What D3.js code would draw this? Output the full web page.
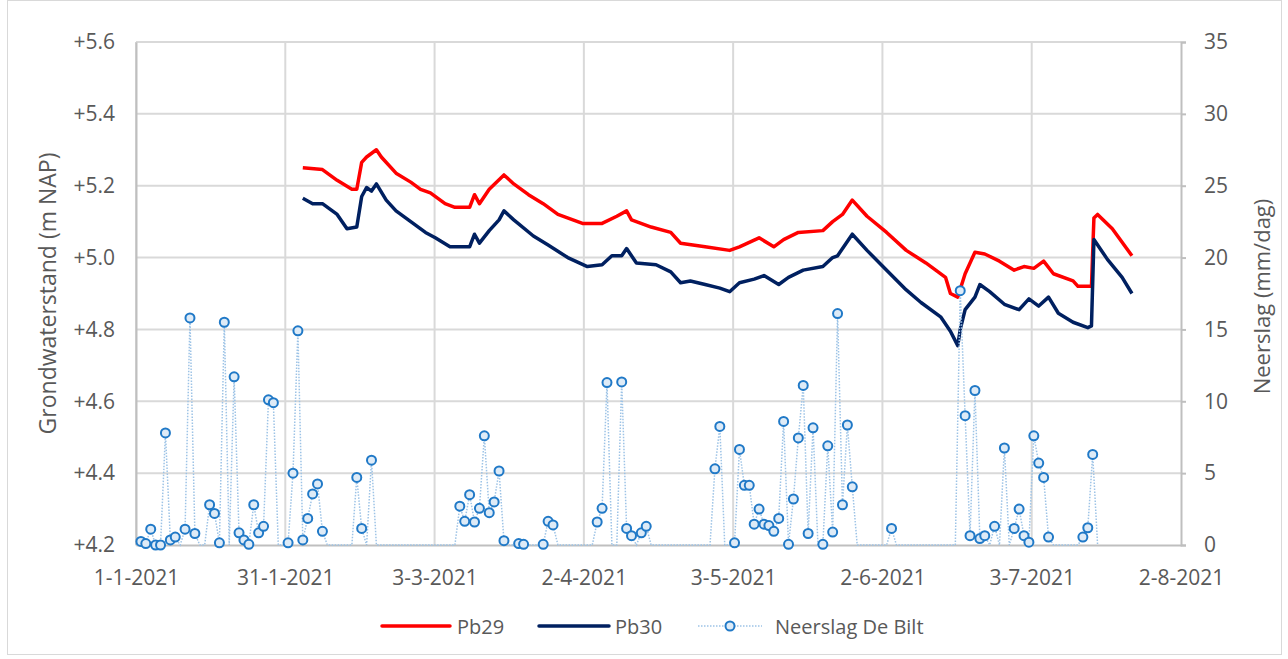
<!DOCTYPE html>
<html>
<head>
<meta charset="utf-8">
<script src="https://cdn.jsdelivr.net/npm/d3@7"></script>
<style>
  body { margin: 0; background: #fff; }
  svg { display: block; font-family: 'Open Sans', sans-serif; }
</style>
</head>
<body>
<div id="chart"></div>
<script>
// x axis: Excel spreads the 8 date labels evenly over 1-1-2021 .. 2-8-2021
const xDomain = ['2021-01-01', '2021-08-02'];
const xTickLabels = ['1-1-2021', '31-1-2021', '3-3-2021', '2-4-2021', '3-5-2021', '2-6-2021', '3-7-2021', '2-8-2021'];
const leftTicks = [4.2, 4.4, 4.6, 4.8, 5.0, 5.2, 5.4, 5.6];
const rightTicks = [0, 5, 10, 15, 20, 25, 30, 35];

// Grondwaterstand Pb29 (m NAP)
const pb29Dates = ['2021-02-04', '2021-02-08', '2021-02-11', '2021-02-14', '2021-02-15', '2021-02-16',
  '2021-02-17', '2021-02-19', '2021-02-20', '2021-02-23', '2021-02-26', '2021-02-28', '2021-03-02',
  '2021-03-05', '2021-03-07', '2021-03-10', '2021-03-11', '2021-03-12', '2021-03-14', '2021-03-17',
  '2021-03-19', '2021-03-22', '2021-03-25', '2021-03-28', '2021-04-02', '2021-04-06', '2021-04-09',
  '2021-04-11', '2021-04-12', '2021-04-16', '2021-04-20', '2021-04-22', '2021-04-27', '2021-05-02',
  '2021-05-04', '2021-05-08', '2021-05-11', '2021-05-13', '2021-05-16', '2021-05-21', '2021-05-23',
  '2021-05-25', '2021-05-27', '2021-05-30', '2021-06-03', '2021-06-07', '2021-06-11', '2021-06-15',
  '2021-06-16', '2021-06-17T12:00Z', '2021-06-19', '2021-06-21', '2021-06-23', '2021-06-26',
  '2021-06-29', '2021-07-01', '2021-07-03', '2021-07-05', '2021-07-07', '2021-07-11', '2021-07-12',
  '2021-07-14T18:00Z', '2021-07-15T06:00Z', '2021-07-16', '2021-07-19', '2021-07-23'];
const pb29Values = [5.25, 5.245, 5.215, 5.19, 5.19, 5.265,
  5.28, 5.30, 5.28, 5.235, 5.21, 5.19, 5.18,
  5.15, 5.14, 5.14, 5.175, 5.15, 5.19, 5.23,
  5.205, 5.175, 5.15, 5.12, 5.095, 5.095, 5.115,
  5.13, 5.105, 5.085, 5.07, 5.04, 5.03, 5.02,
  5.03, 5.055, 5.03, 5.05, 5.07, 5.075, 5.10,
  5.12, 5.16, 5.115, 5.07, 5.02, 4.985, 4.945,
  4.90, 4.89, 4.955, 5.015, 5.01, 4.99,
  4.965, 4.975, 4.97, 4.99, 4.955, 4.935, 4.92,
  4.92, 5.11, 5.12, 5.08, 5.005];

// Grondwaterstand Pb30 (m NAP)
const pb30Dates = ['2021-02-04', '2021-02-06', '2021-02-08', '2021-02-11', '2021-02-13', '2021-02-15',
  '2021-02-16', '2021-02-17', '2021-02-18', '2021-02-19', '2021-02-21', '2021-02-23', '2021-02-26',
  '2021-03-01', '2021-03-03', '2021-03-06', '2021-03-10', '2021-03-11', '2021-03-12', '2021-03-14',
  '2021-03-16', '2021-03-17', '2021-03-19', '2021-03-23', '2021-03-26', '2021-03-30', '2021-04-03',
  '2021-04-06', '2021-04-08', '2021-04-10', '2021-04-11', '2021-04-13', '2021-04-17', '2021-04-20',
  '2021-04-22', '2021-04-24', '2021-04-27', '2021-04-30', '2021-05-02', '2021-05-04', '2021-05-07',
  '2021-05-09', '2021-05-12', '2021-05-14', '2021-05-17', '2021-05-21', '2021-05-23', '2021-05-24',
  '2021-05-27', '2021-05-30', '2021-06-03', '2021-06-07', '2021-06-10', '2021-06-14', '2021-06-16',
  '2021-06-17T12:00Z', '2021-06-18', '2021-06-19', '2021-06-21', '2021-06-22', '2021-06-24',
  '2021-06-27', '2021-06-30', '2021-07-02', '2021-07-04', '2021-07-06', '2021-07-08', '2021-07-11',
  '2021-07-14', '2021-07-14T18:00Z', '2021-07-15T06:00Z', '2021-07-18', '2021-07-21', '2021-07-23'];
const pb30Values = [5.165, 5.15, 5.15, 5.12, 5.08, 5.085,
  5.17, 5.195, 5.185, 5.205, 5.16, 5.13, 5.10,
  5.07, 5.055, 5.03, 5.03, 5.065, 5.04, 5.075,
  5.105, 5.13, 5.105, 5.06, 5.035, 5.00, 4.975,
  4.98, 5.005, 5.005, 5.025, 4.985, 4.98, 4.96,
  4.93, 4.935, 4.925, 4.915, 4.905, 4.93, 4.94,
  4.95, 4.925, 4.945, 4.965, 4.975, 5.00, 5.005,
  5.065, 5.02, 4.965, 4.91, 4.875, 4.835, 4.795,
  4.755, 4.80, 4.855, 4.89, 4.925, 4.905,
  4.87, 4.855, 4.885, 4.865, 4.89, 4.845, 4.82,
  4.805, 4.81, 5.05, 4.995, 4.945, 4.90];

// Neerslag De Bilt (mm/dag), one value per day from 1-1-2021; null = empty cell
const rainStart = '2021-01-01';
const rainValues = [
  null, 0.25, 0.1, 1.1, 0, 0, 7.8, 0.35, 0.55, null,
  1.1, 15.8, 0.8, null, null, 2.8, 2.2, 0.15, 15.5, null,
  11.7, 0.85, 0.35, 0.05, 2.8, 0.85, 1.3, 10.1, 9.9, null,
  null, 0.15, 5.0, 14.9, 0.35, 1.85, 3.55, 4.25, 0.95, null,
  null, null, null, null, null, 4.7, 1.15, null, 5.9, null,
  null, null, null, null, null, null, null, null, null, null,
  null, null, null, null, null, null, 2.7, 1.65, 3.5, 1.6,
  2.55, 7.6, 2.25, 3.0, 5.15, 0.3, null, null, 0.1, 0.05,
  null, null, null, 0.05, 1.65, 1.4, null, null, null, null,
  null, null, null, null, 1.6, 2.55, 11.3, null, null, 11.35,
  1.15, 0.65, null, 0.85, 1.3, null, null, null, null, null,
  null, null, null, null, null, null, null, null, 5.3, 8.25,
  null, null, 0.15, 6.65, 4.15, 4.15, 1.45, 2.5, 1.45, 1.35,
  0.95, 1.85, 8.6, 0.05, 3.2, 7.45, 11.1, 0.8, 8.15, null,
  0.05, 6.9, 0.9, 16.1, 2.8, 8.35, 4.05, null, null, null,
  null, null, null, null, 1.15, null, null, null, null, null,
  null, null, null, null, null, null, null, null, 17.7, 9.0,
  0.65, 10.75, 0.45, 0.65, null, 1.3, null, 6.75, null, 1.15,
  2.5, 0.65, 0.2, 7.6, 5.7, 4.7, 0.55, null, null, null,
  null, null, null, 0.55, 1.2, 6.3, null
];

const seriesNames = ['Pb29', 'Pb30', 'Neerslag De Bilt'];
const seriesColors = ['#ff0000', '#002060', '#2079c7'];

class GwChart {
  constructor() {
    this.width = 1288;
    this.height = 659;
    this.box = { left: 136, right: 1181, top: 42, bottom: 545 };
    this.textColor = '#595959';
    this.gridColor = '#d9d9d9';
  }

  /* ---
   * Draws the whole chart into el.
   */
  display(el) {
    this.el = el;

    this.createScales();
    this.createSvg();
    this.createGrid();
    this.createAxes();
    this.createLevels();
    this.createRain();
    this.createLegend();
  }

  /* ---
   * Helper: time scale plus the two value scales.
   */
  createScales() {
    const b = this.box;
    this.x = d3.scaleUtc().domain(xDomain.map(d3.isoParse)).range([b.left, b.right]);
    this.yLeft = d3.scaleLinear().domain([4.2, 5.6]).range([b.bottom, b.top]);
    this.yRight = d3.scaleLinear().domain([0, 35]).range([b.bottom, b.top]);

    const [t0, t1] = this.x.domain();
    const step = (t1 - t0) / (xTickLabels.length - 1);
    this.xTicks = xTickLabels.map((label, i) => ({ label: label, date: new Date(+t0 + i * step) }));
  }

  createSvg() {
    this.svg = d3.select(this.el).append('svg')
      .attr('width', this.width)
      .attr('height', this.height);

    this.svg.append('rect')
      .attr('x', 7.5).attr('y', 0.5)
      .attr('width', 1274).attr('height', 654)
      .attr('fill', '#fff')
      .attr('stroke', '#d9d9d9');
  }

  /* ---
   * Helper: horizontal and vertical grid lines.
   */
  createGrid() {
    const b = this.box;
    const g = this.svg.append('g').attr('stroke', this.gridColor).attr('stroke-width', 2);

    g.selectAll('line.h')
      .data(leftTicks.slice(1))
      .enter()
      .append('line')
      .attr('x1', b.left).attr('x2', b.right)
      .attr('y1', d => this.yLeft(d)).attr('y2', d => this.yLeft(d));

    g.selectAll('line.v')
      .data(this.xTicks.slice(0, -1))
      .enter()
      .append('line')
      .attr('x1', d => this.x(d.date)).attr('x2', d => this.x(d.date))
      .attr('y1', b.top).attr('y2', b.bottom);
  }

  /* ---
   * Helper: axis lines, tick labels and titles.
   */
  createAxes() {
    const b = this.box;
    const fmt = d3.format('.1f');

    const bottom = this.svg.append('g')
      .attr('transform', `translate(0,${b.bottom})`)
      .call(d3.axisBottom(this.x)
        .tickValues(this.xTicks.map(d => d.date))
        .tickFormat((d, i) => xTickLabels[i])
        .tickSize(0).tickPadding(25));

    const left = this.svg.append('g')
      .attr('transform', `translate(${b.left},0)`)
      .call(d3.axisLeft(this.yLeft)
        .tickValues(leftTicks)
        .tickFormat(d => '+' + fmt(d))
        .tickSize(0).tickPadding(21));

    const right = this.svg.append('g')
      .attr('transform', `translate(${b.right},0)`)
      .call(d3.axisRight(this.yRight)
        .tickValues(rightTicks)
        .tickSize(5).tickPadding(18));

    [bottom, left, right].forEach(ax => {
      ax.selectAll('text')
        .attr('fill', this.textColor)
        .attr('font-size', 21)
        .attr('font-family', "'Open Sans', sans-serif");
      ax.selectAll('.tick line').attr('stroke', '#bfbfbf').attr('stroke-width', 2);
    });
    left.select('.domain').attr('stroke', '#bfbfbf').attr('stroke-width', 2);
    bottom.select('.domain').attr('stroke', '#bfbfbf').attr('stroke-width', 2);
    right.select('.domain').attr('stroke', '#bfbfbf').attr('stroke-width', 2);

    const mid = (b.top + b.bottom) / 2;
    this.svg.append('text')
      .attr('transform', `translate(47,${mid}) rotate(-90)`)
      .attr('text-anchor', 'middle')
      .attr('dominant-baseline', 'central')
      .attr('fill', this.textColor)
      .attr('font-size', 23)
      .text('Grondwaterstand (m NAP)');

    this.svg.append('text')
      .attr('transform', `translate(1261,${mid + 3}) rotate(-90)`)
      .attr('text-anchor', 'middle')
      .attr('dominant-baseline', 'central')
      .attr('fill', this.textColor)
      .attr('font-size', 22)
      .text('Neerslag (mm/dag)');
  }

  /* ---
   * Helper: the two groundwater level lines.
   */
  createLevels() {
    const line = d3.line()
      .x(d => this.x(d.date))
      .y(d => this.yLeft(d.value));

    const series = [
      { dates: pb29Dates, values: pb29Values, color: seriesColors[0] },
      { dates: pb30Dates, values: pb30Values, color: seriesColors[1] }
    ];

    series.forEach(s => {
      const pts = s.dates.map((d, i) => ({ date: d3.isoParse(d), value: s.values[i] }));
      this.svg.append('path')
        .datum(pts)
        .attr('d', line)
        .attr('fill', 'none')
        .attr('stroke', s.color)
        .attr('stroke-width', 3.5)
        .attr('stroke-linejoin', 'round');
    });
  }

  /* ---
   * Helper: dotted rain line (empty cells drawn as zero) and markers.
   */
  createRain() {
    const t0 = d3.isoParse(rainStart);
    const pts = rainValues.map((v, i) => ({ date: d3.utcDay.offset(t0, i), value: v }));

    const line = d3.line()
      .x(d => this.x(d.date))
      .y(d => this.yRight(d.value === null ? 0 : d.value));

    this.svg.append('path')
      .datum(pts)
      .attr('d', line)
      .attr('fill', 'none')
      .attr('stroke', '#9dc3e6')
      .attr('stroke-width', 1.5)
      .attr('stroke-dasharray', '1.5,1.5');

    this.svg.append('g')
      .selectAll('circle')
      .data(pts.filter(d => d.value !== null))
      .enter()
      .append('circle')
      .attr('cx', d => this.x(d.date))
      .attr('cy', d => this.yRight(d.value))
      .attr('r', 4.5)
      .attr('fill', '#deebf7')
      .attr('stroke', seriesColors[2])
      .attr('stroke-width', 2);
  }

  /* ---
   * Helper: legend under the plot.
   */
  createLegend() {
    const y = 626;
    const items = [
      { x: 382, len: 68, text: 457 },
      { x: 539, len: 70, text: 615 },
      { x: 698, len: 64, text: 775 }
    ];
    const g = this.svg.append('g');

    items.forEach((it, i) => {
      const ln = g.append('line')
        .attr('x1', it.x).attr('x2', it.x + it.len)
        .attr('y1', y).attr('y2', y)
        .attr('stroke', i < 2 ? seriesColors[i] : '#9dc3e6');
      if (i < 2) {
        ln.attr('stroke-width', 3.5).attr('stroke-linecap', 'round');
      } else {
        ln.attr('stroke-width', 1.5).attr('stroke-dasharray', '1.5,1.5');
        g.append('circle')
          .attr('cx', it.x + it.len / 2).attr('cy', y).attr('r', 4.5)
          .attr('fill', '#deebf7').attr('stroke', seriesColors[2]).attr('stroke-width', 2);
      }
      g.append('text')
        .attr('x', it.text).attr('y', y)
        .attr('dominant-baseline', 'central')
        .attr('fill', this.textColor)
        .attr('font-size', 20)
        .text(seriesNames[i]);
    });
  }
}

new GwChart().display(document.getElementById('chart'));
</script>
</body>
</html>
